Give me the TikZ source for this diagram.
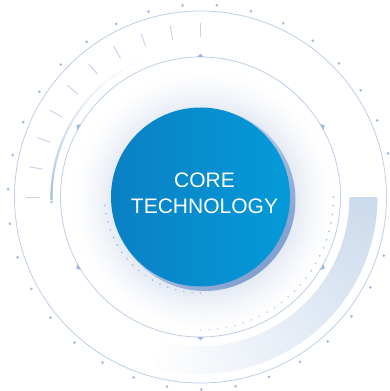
\documentclass[tikz,border=0pt]{standalone}
\usepackage{fontspec}
\setmainfont{Liberation Sans}
\usetikzlibrary{calc}
\definecolor{ringc}{HTML}{BDD0E8}
\definecolor{dotc}{HTML}{A3BCDF}
\definecolor{tickc}{HTML}{C3D3E9}
\definecolor{arcc}{HTML}{A3BDE0}
\definecolor{markc}{HTML}{9FB7DC}
\definecolor{bandc}{HTML}{CBDAEC}
\definecolor{blueL}{HTML}{0A80C4}
\definecolor{blueR}{HTML}{049AD9}
\definecolor{crescA}{HTML}{DCE5F1}
\definecolor{crescB}{HTML}{819FCE}
\definecolor{haloc}{HTML}{E3E9F3}
\tikzset{
  thinring/.style={draw=ringc, line width=0.8pt},
  tickline/.style={draw=tickc, line width=0.9pt},
  marker/.style={fill=markc},
  coretext/.style={text=white, align=center, font=\fontsize{21}{26}\selectfont},
}
\begin{document}
\begin{tikzpicture}[x=1pt,y=1pt]
\useasboundingbox (-200.5,-194) rectangle (188.5,197);
% halo
\foreach \r in {134,...,90}{
  \pgfmathtruncatemacro\p{100*((134-\r)/44)^1.6}
  \fill[haloc!\p!white] (3,-4) circle (\r);
}
% lower right fading band
\foreach \a in {0,...,-104}{
  \pgfmathtruncatemacro\p{max(0,100*(1-(-\a)/108))}
  \fill[bandc!\p!white] (\a:149) arc (\a:\a-1.3:149) -- (\a-1.3:177) arc (\a-1.3:\a:177) -- cycle;
}
% outer thin ring
\draw[thinring] (0,0) circle (186);
% outer dot ring
\foreach \k in {0,...,34} \fill[dotc] ({95.4+10.2857*\k}:192.5) circle (1.5);
% ticks
\foreach \a in {90,100,...,180} \draw[tickline] (\a:160) -- (\a:174);
% fading thick arc
\foreach \a in {95,...,180}{
  \pgfmathtruncatemacro\p{100*((\a-95)/85)^2.2}
  \draw[arcc!\p!white, line width=2.2pt] (\a:149) arc (\a:\a+1.2:149);
}
\fill[arcc] (181.9:149) circle (1.4);
% inner thin ring
\draw[thinring] (0,0) circle (140);
% markers
\foreach \a in {30,90,...,330}
  \fill[marker, shift={(\a:140)}, rotate=\a-90] (-3.5,0) -- (3.5,0) -- (0,3.3) -- cycle;
% outer dotted arc (right)
\foreach \k in {0,...,24}{
  \pgfmathtruncatemacro\p{100-2*\k}
  \fill[dotc!\p!white] ({-3.75*\k}:133) circle (0.95);
}
% inner dotted arc (left / bottom)
\foreach \a in {185,190,...,270} \fill[dotc] (\a:96) circle (0.9);
% shadow crescent
\shade[top color=crescA, bottom color=crescB, shading angle=45] (4,-3) circle (91);
% core circle
\node[circle, minimum size=179pt, inner sep=0pt, left color=blueL, right color=blueR] (core) at (0,0) {};
\node[coretext] (label) at ($(core.center)+(4,3.3)$) {CORE\\TECHNOLOGY};
\end{tikzpicture}
\end{document}
